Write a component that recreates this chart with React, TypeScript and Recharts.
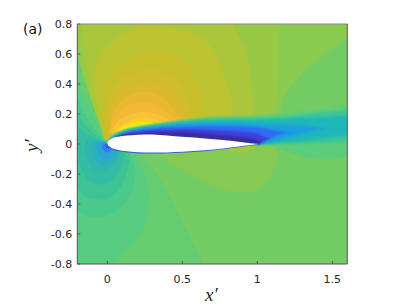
import React from "react";
import { ComposedChart, Area, XAxis, YAxis } from "recharts";

type Row = [number, number, number]; // x, low, high

const xTicks = [0, 0.5, 1, 1.5];
const yTicks = [-0.8, -0.6, -0.4, -0.2, 0, 0.2, 0.4, 0.6, 0.8];

const field: Row[] = [[-0.2, -0.8, 0.8], [1.6, -0.8, 0.8]];

// green tiers over the top half
const g2: Row[] = [[-0.2, 0.0, 0.8], [1.1, 0.0, 0.8], [1.165, 0.27, 0.8], [1.28, 0.45, 0.8], [1.44, 0.59, 0.8], [1.6, 0.706, 0.8]];
const g3: Row[] = [[-0.2, 0.7, 0.7], [-0.19, 0.6, 0.8], [0, 0, 0.8], [1.09, 0, 0.8], [1.12, 0.2, 0.8], [1.14, 0.5, 0.8], [1.145, 0.8, 0.8]];
const g4: Row[] = [[-0.18, 0.8, 0.8], [-0.15, 0.55, 0.8], [-0.08, 0.22, 0.8], [0, 0, 0.8], [0.6, 0, 0.8], [0.8, 0, 0.8], [0.84, 0, 0.8]];
const g5: Row[] = [[-0.17, 0.8, 0.8], [-0.14, 0.6, 0.8], [-0.08, 0.28, 0.8], [0, 0, 0.8], [0.83, 0, 0.8], [0.88, 0, 0.7], [0.93, 0, 0.6], [0.96, 0, 0.42], [0.97, 0, 0.29], [0.98, 0, 0]];
const under: Row[] = [[0.33, -0.06, 0], [0.5, -0.17, 0], [0.685, -0.27, 0], [0.82, -0.315, 0], [0.95, -0.325, 0], [1.05, -0.27, 0], [1.1, -0.2, 0], [1.13, -0.1, 0], [1.14, -0.04, -0.04]];
const bump: Row[] = [[0.77, -0.03, 0], [0.84, -0.05, 0], [0.9, -0.055, 0], [0.96, -0.035, 0], [0.98, -0.01, -0.01]];

// rays and rings around the stagnation point
const k1: Row[] = [[-0.2, -0.8, 0.6], [-0.15, -0.8, 0.42], [-0.1, -0.8, 0.27], [-0.05, -0.8, 0.13], [0, -0.8, 0], [0.1, -0.8, 0], [0.22, -0.8, -0.06], [0.33, -0.8, -0.2], [0.46, -0.8, -0.44], [0.55, -0.8, -0.62], [0.64, -0.8, -0.8]];
const k2: Row[] = [[-0.2, -0.8, 0.44], [-0.15, -0.8, 0.3], [-0.1, -0.8, 0.2], [-0.05, -0.8, 0.09], [0, -0.8, 0], [0.08, -0.745, 0], [0.15, -0.69, -0.01], [0.2, -0.62, -0.1], [0.24, -0.55, -0.18], [0.27, -0.44, -0.28], [0.28, -0.35, -0.35]];
const k3: Row[] = [[-0.2, -0.45, 0.3], [-0.15, -0.475, 0.2], [-0.1, -0.49, 0.12], [-0.05, -0.49, 0.06], [0, -0.47, 0], [0.07, -0.44, -0.01], [0.13, -0.38, -0.04], [0.17, -0.3, -0.12], [0.19, -0.2, -0.2]];
const k4: Row[] = [[-0.2, -0.3, 0.2], [-0.15, -0.345, 0.13], [-0.1, -0.37, 0.08], [-0.03, -0.37, 0.03], [0.05, -0.33, 0], [0.12, -0.22, -0.06], [0.15, -0.12, -0.12]];
const k5: Row[] = [[-0.2, -0.12, 0.13], [-0.16, -0.2, 0.08], [-0.1, -0.26, 0.05], [-0.03, -0.27, 0.02], [0.05, -0.22, 0], [0.1, -0.14, -0.03], [0.115, -0.08, -0.08]];
const k6: Row[] = [[-0.15, -0.07, 0.03], [-0.1, -0.16, 0.03], [-0.03, -0.19, 0.015], [0.03, -0.16, 0], [0.07, -0.1, -0.015], [0.085, -0.05, -0.05]];
const k7: Row[] = [[-0.1, -0.05, 0.01], [-0.07, -0.12, 0.02], [-0.02, -0.145, 0.01], [0.03, -0.12, 0], [0.06, -0.08, -0.02], [0.07, -0.045, -0.045]];
const k8: Row[] = [[-0.07, -0.03, 0], [-0.04, -0.09, 0.008], [0, -0.105, 0], [0.035, -0.08, -0.02], [0.05, -0.04, -0.04]];
const k9: Row[] = [[-0.035, -0.02, 0], [-0.012, -0.055, 0.005], [0.012, -0.055, -0.01], [0.03, -0.03, -0.03]];
const k10: Row[] = [[-0.014, -0.012, 0], [0, -0.03, 0.005], [0.015, -0.022, -0.014]];

// suction lobes above the airfoil
const l2: Row[] = [[-0.093, 0.36, 0.36], [-0.082, 0.31, 0.49], [-0.05, 0.19, 0.58], [0, 0, 0.65], [0.04, 0, 0.69], [0.15, 0, 0.755], [0.285, 0, 0.79], [0.45, 0, 0.77], [0.66, 0, 0.69], [0.75, 0, 0.53], [0.795, 0, 0.4], [0.83, 0, 0.27], [0.84, 0, 0]];
const l3: Row[] = [[-0.04, 0.24, 0.24], [-0.02, 0.12, 0.36], [0, 0, 0.43], [0.05, 0, 0.5], [0.13, 0, 0.56], [0.22, 0, 0.605], [0.33, 0, 0.622], [0.45, 0, 0.585], [0.57, 0, 0.47], [0.64, 0, 0.25], [0.66, 0, 0]];
const l4: Row[] = [[-0.01, 0.1, 0.1], [0, 0, 0.26], [0.03, 0, 0.34], [0.08, 0, 0.41], [0.15, 0, 0.46], [0.29, 0, 0.493], [0.42, 0, 0.45], [0.5, 0, 0.37], [0.56, 0, 0.22], [0.59, 0, 0]];
const l5: Row[] = [[0, 0.02, 0.02], [0.02, 0, 0.22], [0.06, 0, 0.31], [0.12, 0, 0.37], [0.28, 0, 0.42], [0.4, 0, 0.375], [0.47, 0, 0.29], [0.53, 0, 0.16], [0.55, 0, 0]];
const l6: Row[] = [[0.005, 0, 0.02], [0.03, 0, 0.18], [0.08, 0, 0.27], [0.15, 0, 0.325], [0.27, 0, 0.35], [0.38, 0, 0.3], [0.46, 0, 0.21], [0.51, 0, 0.13], [0.52, 0, 0]];
const l7: Row[] = [[0.01, 0, 0.02], [0.04, 0, 0.15], [0.1, 0, 0.23], [0.18, 0, 0.27], [0.27, 0, 0.28], [0.36, 0, 0.245], [0.44, 0, 0.18], [0.49, 0, 0.14], [0.5, 0, 0]];
const l8: Row[] = [[0.015, 0, 0.03], [0.05, 0, 0.12], [0.12, 0, 0.185], [0.26, 0, 0.215], [0.34, 0, 0.195], [0.42, 0, 0.15], [0.46, 0, 0]];
const l9: Row[] = [[0.02, 0, 0.04], [0.07, 0, 0.105], [0.15, 0, 0.155], [0.25, 0, 0.175], [0.33, 0, 0.16], [0.4, 0, 0.135], [0.42, 0, 0]];
const l10: Row[] = [[0.02, 0, 0.04], [0.08, 0, 0.098], [0.16, 0, 0.135], [0.22, 0, 0.148], [0.3, 0, 0.14], [0.36, 0, 0]];

// wake, outer to inner
const w1: Row[] = [[0, 0, 0.01], [0.02, 0, 0.045], [0.05, 0, 0.068], [0.1, 0, 0.09], [0.2, 0, 0.115], [0.35, 0, 0.14], [0.5, 0, 0.16], [0.685, 0, 0.18], [0.85, 0, 0.185], [1, 0, 0.19], [1.15, -0.03, 0.2], [1.3, -0.08, 0.215], [1.47, -0.105, 0.24], [1.6, -0.07, 0.26]];
const w2: Row[] = [[0, 0, 0.008], [0.02, 0, 0.04], [0.05, 0, 0.063], [0.1, 0, 0.085], [0.2, 0, 0.11], [0.35, 0, 0.133], [0.5, 0, 0.152], [0.685, 0, 0.168], [0.85, 0, 0.173], [1, 0, 0.175], [1.15, 0.003, 0.18], [1.3, 0.005, 0.195], [1.47, 0.008, 0.215], [1.6, 0.015, 0.225]];
const w3: Row[] = [[0.005, 0, 0.008], [0.02, 0, 0.035], [0.05, 0, 0.058], [0.1, 0, 0.08], [0.2, 0, 0.105], [0.35, 0, 0.127], [0.5, 0, 0.145], [0.685, 0, 0.155], [0.85, 0, 0.16], [1, 0, 0.16], [1.15, 0.01, 0.165], [1.3, 0.02, 0.175], [1.47, 0.04, 0.18], [1.6, 0.055, 0.19]];
const w4: Row[] = [[0.03, 0, 0.03], [0.1, 0, 0.075], [0.2, 0, 0.1], [0.35, 0, 0.118], [0.5, 0, 0.132], [0.685, 0, 0.14], [0.85, 0, 0.14], [1, 0, 0.135], [1.15, 0.03, 0.13], [1.3, 0.07, 0.125], [1.45, 0.1, 0.105], [1.5, 0.102, 0.102]];
const w5: Row[] = [[0.04, 0, 0.03], [0.1, 0, 0.068], [0.2, 0, 0.09], [0.35, 0, 0.108], [0.5, 0, 0.118], [0.685, 0, 0.122], [0.85, 0, 0.118], [1, 0.01, 0.11], [1.1, 0.045, 0.095], [1.2, 0.075, 0.08], [1.25, 0.08, 0.08]];
const w6: Row[] = [[0.05, 0, 0.04], [0.1, 0, 0.062], [0.2, 0, 0.082], [0.35, 0, 0.095], [0.5, 0, 0.1], [0.685, 0, 0.095], [0.85, 0, 0.085], [1, 0, 0.07], [1.07, 0.03, 0.04], [1.1, 0.04, 0.04]];
const w7: Row[] = [[0.06, 0, 0.046], [0.1, 0, 0.057], [0.2, 0, 0.07], [0.35, 0, 0.08], [0.5, 0, 0.08], [0.685, 0, 0.065], [0.85, 0, 0.05], [1, 0, 0.025], [1.03, 0.012, 0.012]];

const rim: Row[] = [[0.005, -0.012, 0], [0.03, -0.033, 0], [0.1, -0.052, 0], [0.25, -0.064, 0], [0.45, -0.06, 0], [0.65, -0.048, 0], [0.77, -0.035, 0], [0.9, -0.018, 0], [1.007, 0, 0]];
const airfoil: Row[] = [[0, 0.005, 0.005], [0.005, -0.008, 0.018], [0.015, -0.017, 0.027], [0.03, -0.027, 0.037], [0.06, -0.037, 0.046], [0.1, -0.045, 0.053], [0.16, -0.052, 0.059], [0.25, -0.057, 0.063], [0.35, -0.057, 0.06], [0.45, -0.053, 0.052], [0.55, -0.048, 0.045], [0.65, -0.042, 0.037], [0.77, -0.03, 0.026], [0.9, -0.014, 0.012], [1.007, 0, 0]];

const bands: [string, Row[], number][] = [
  ["#74cc65", field, 0],
  ["#8acb4f", g2, 0.5],
  ["#97c947", g3, 0.5],
  ["#a2c841", g4, 0.5],
  ["#abc63b", g5, 0.5],
  ["#86ca54", under, 0.5],
  ["#a3c83d", bump, 0.5],
  ["#65cd70", k1, 0.5],
  ["#58cc80", k2, 0.5],
  ["#4aca8a", k3, 0.5],
  ["#bcc330", l2, 0.5],
  ["#c6bf2a", l3, 0.5],
  ["#cfbd2a", l4, 0.5],
  ["#dab92b", l5, 0.5],
  ["#e8b92f", l6, 0.5],
  ["#f3b836", l7, 0.5],
  ["#fac238", l8, 0.5],
  ["#fbd027", l9, 0.5],
  ["#f6e41f", l10, 0.5],
  ["#3fc294", k4, 0.5],
  ["#34bda3", k5, 0.5],
  ["#2eb8ad", k6, 0.5],
  ["#2bb0bf", k7, 0.5],
  ["#2ea4d6", k8, 0.5],
  ["#2f80e8", k9, 0.5],
  ["#3052f5", k10, 0.5],
  ["#5ccd7a", w1, 1],
  ["#3dc596", w2, 1],
  ["#1fb7b9", w3, 1],
  ["#1d9fe0", w4, 1.2],
  ["#2f6df5", w5, 1.2],
  ["#3f3fd8", w6, 1],
  ["#3a2c9f", w7, 0.8],
  ["#2f62d0", rim, 0.3],
  ["#ffffff", airfoil, 0.4],
];

const axisColor = "#555555";
const tickStyle = { fontSize: 11, fontFamily: "DejaVu Sans", fill: "#262626" };

export default function App() {
  return (
    <div style={{ position: "absolute", left: 0, top: 0 }}>
      <ComposedChart width={411} height={306} margin={{ top: 23, right: 62.7, bottom: 12, left: 47.3 }}>
        {bands.map(([color, rows, blur], i) => (
          <Area
            key={i}
            data={rows.map((r) => ({ x: r[0], range: [r[1], r[2]] }))}
            dataKey="range"
            type="monotone"
            fill={color}
            fillOpacity={1}
            stroke="none"
            dot={false}
            activeDot={false}
            isAnimationActive={false}
            style={{ filter: blur ? `blur(${blur}px)` : undefined }}
          />
        ))}
        <XAxis
          dataKey="x"
          type="number"
          domain={[-0.2, 1.6]}
          ticks={xTicks}
          height={30}
          allowDataOverflow
          allowDuplicatedCategory={false}
          stroke={axisColor}
          tickSize={-3}
          tickMargin={14}
          tick={tickStyle}
        />
        <YAxis
          type="number"
          domain={[-0.8, 0.8]}
          ticks={yTicks}
          width={30}
          allowDataOverflow
          stroke={axisColor}
          tickSize={-3}
          tickMargin={8}
          tick={tickStyle}
        />
        <XAxis
          xAxisId="top"
          orientation="top"
          dataKey="x"
          type="number"
          domain={[-0.2, 1.6]}
          ticks={xTicks}
          height={1}
          stroke="#888888"
          tickSize={-3}
          tick={false}
        />
        <YAxis
          yAxisId="right"
          orientation="right"
          type="number"
          domain={[-0.8, 0.8]}
          ticks={yTicks}
          width={1}
          stroke={axisColor}
          tickSize={-3}
          tick={false}
        />
        <text x={23} y={34} fontSize={14} fontFamily="DejaVu Sans" fill="#111111">(a)</text>
        <text x={205} y={301} fontSize={19} fontStyle="italic" fontFamily="Liberation Serif" fill="#262626">x′</text>
        <text x={38} y={152} fontSize={19} fontStyle="italic" fontFamily="Liberation Serif" fill="#262626" transform="rotate(-90 38 152)">y′</text>
      </ComposedChart>
    </div>
  );
}
